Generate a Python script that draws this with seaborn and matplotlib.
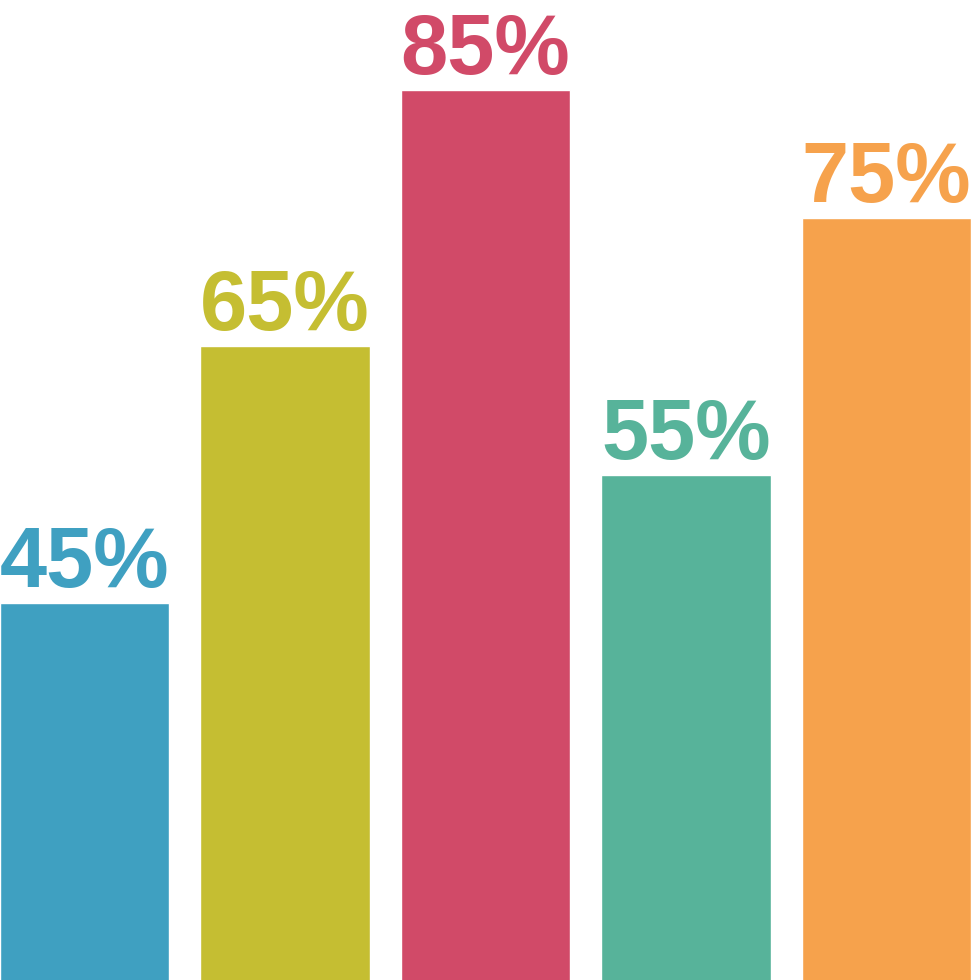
import matplotlib
matplotlib.use("Agg")
import matplotlib.pyplot as plt
import seaborn as sns
import pandas as pd

categories = ["A", "B", "C", "D", "E"]
values = [45, 65, 85, 55, 75]
labels = ["45%", "65%", "85%", "55%", "75%"]
colors = ["#3FA0C1", "#C5BE32", "#D14A68", "#57B39A", "#F6A24C"]

sns.set_style("white")
plt.rcParams["font.family"] = ["Liberation Sans", "DejaVu Sans"]

df = pd.DataFrame({"cat": categories, "val": values})

fig = plt.figure(figsize=(9.71, 9.80), dpi=100)
ax = fig.add_axes([0, 0, 1, 1])
sns.barplot(data=df, x="cat", y="val", hue="cat", palette=colors,
            width=0.843, legend=False, saturation=1, ax=ax)

for i, (v, lab) in enumerate(zip(values, labels)):
    ax.annotate(lab, (i, v), xytext=(0, 11.5), textcoords="offset points",
                ha="center", va="baseline", fontsize=61, fontweight="bold",
                color=colors[i])

ax.set_xlim(-0.4215, 4.4215)
ax.set_ylim(15.6, 92.0)
ax.axis("off")

fig.savefig("out.png", dpi=100, facecolor="white")
